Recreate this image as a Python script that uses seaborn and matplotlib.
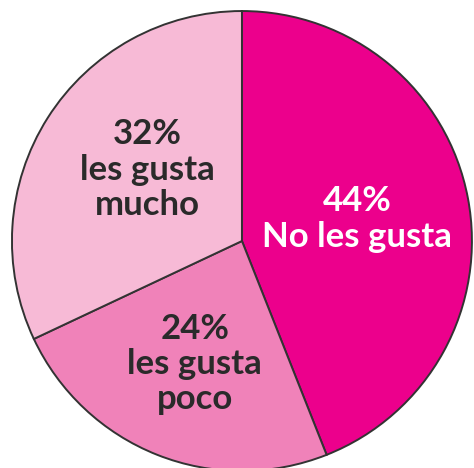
import matplotlib
matplotlib.use("Agg")
import matplotlib.pyplot as plt
import seaborn as sns

labels = ["No les gusta", "les gusta poco", "les gusta mucho"]
values = [44, 24, 32]
colors = ["#EC008C", "#F082B9", "#F7BAD6"]
text_colors = ["white", "#2a2a2a", "#2a2a2a"]
label_texts = ["44%\nNo les gusta", "24%\nles gusta\npoco", "32%\nles gusta\nmucho"]
label_pos = [(0.50, 0.095), (-0.205, -0.535), (-0.41, 0.31)]

sns.set_theme(style="white")
plt.rcParams['font.family'] = ['Lato', 'DejaVu Sans']

fig = plt.figure(figsize=(4.74, 4.68), dpi=100)
ax = fig.add_axes([0, 0, 1, 1])
wedges, _ = ax.pie(values, colors=colors, startangle=90, counterclock=False,
                   radius=1.0, wedgeprops=dict(edgecolor="#333333", linewidth=1.4))
for txt, (x, y), c in zip(label_texts, label_pos, text_colors):
    ax.text(x, y, txt, ha="center", va="center", color=c, fontsize=25,
            fontweight="bold", linespacing=1.13)
ax.set_xlim(-1.052, 1.009)
ax.set_ylim(-0.987, 1.048)
ax.set_aspect("auto")
ax.axis("off")
fig.savefig("out.png", dpi=100, facecolor="white")
